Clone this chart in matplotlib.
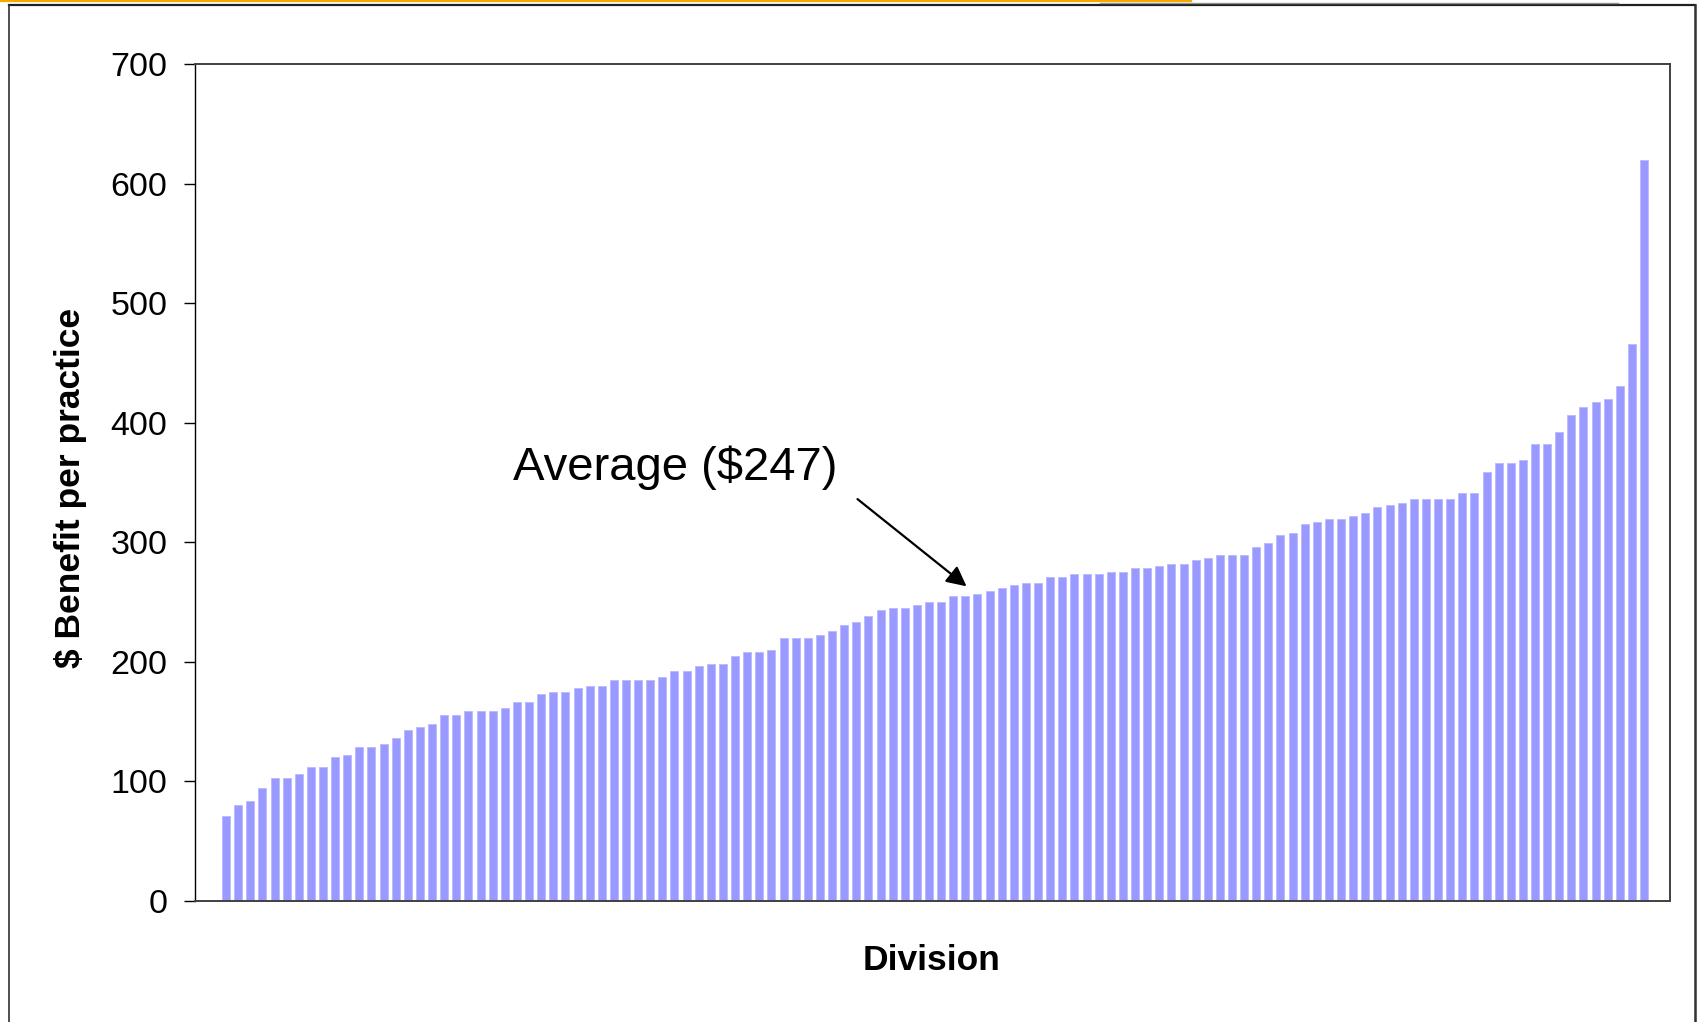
import matplotlib
matplotlib.use("Agg")
import matplotlib.pyplot as plt
from matplotlib.lines import Line2D

plt.rcParams['font.family'] = ['Liberation Sans', 'DejaVu Sans']

# ---- data ----
values = [71, 80, 83, 94, 103, 103, 106, 112, 112, 120,
          122, 129, 129, 131, 136, 143, 145, 148, 155, 155,
          159, 159, 159, 161, 166, 166, 173, 175, 175, 178,
          180, 180, 185, 185, 185, 185, 187, 192, 192, 196,
          198, 198, 205, 208, 208, 210, 220, 220, 220, 222,
          226, 231, 233, 238, 243, 245, 245, 247, 250, 250,
          255, 255, 257, 259, 262, 264, 266, 266, 271, 271,
          273, 273, 273, 275, 275, 278, 278, 280, 282, 282,
          285, 287, 289, 289, 289, 296, 299, 306, 308, 315,
          317, 319, 319, 322, 324, 329, 331, 333, 336, 336,
          336, 336, 341, 341, 359, 366, 366, 369, 382, 382,
          392, 406, 413, 417, 420, 431, 466, 620]
divisions = list(range(len(values)))
y_ticks = [0, 100, 200, 300, 400, 500, 600, 700]
annotation_text = "Average ($247)"
x_label = "Division"
y_label = "$ Benefit per practice"

W, H = 1700, 1022
fig = plt.figure(figsize=(W / 100, H / 100), dpi=100)
fig.patch.set_facecolor('white')

# axes placement (pixels -> fraction)
ax_l, ax_r, ax_t, ax_b = 195, 1670, 64, 900.7
ax = fig.add_axes([ax_l / W, 1 - ax_b / H, (ax_r - ax_l) / W, (ax_b - ax_t) / H])

ax.bar(divisions, values, width=0.66, color='#9999FF', edgecolor='#B8B8FF', linewidth=0.6)

ax.set_xlim(-2.56, 119.14)
ax.set_ylim(0, 700)
ax.set_yticks(y_ticks)
ax.set_yticklabels([str(t) for t in y_ticks], fontsize=24.5)
ax.set_xticks([])
ax.tick_params(axis='y', direction='out', length=8, width=1, pad=12, colors='black')

for side in ['top', 'right', 'bottom']:
    ax.spines[side].set_color('#404040')
    ax.spines[side].set_linewidth(1.4)
ax.spines['left'].set_color('black')
ax.spines['left'].set_linewidth(1.0)

# annotation with arrow
ax.annotate('', xy=(61.1, 263), xytext=(52.1, 336),
            arrowprops=dict(arrowstyle='-|>', mutation_scale=30, lw=1.6, color='black',
                            shrinkA=0, shrinkB=0))
ax.text(23.7, 352, annotation_text, fontsize=34, ha='left', va='baseline', color='black')

# axis labels
fig.text(932 / W, 1 - 960.5 / H, x_label, fontsize=25.5, fontweight='bold', ha='center', va='center')
fig.text(71 / W, 1 - 488 / H, y_label, fontsize=25.5, fontweight='bold', rotation=90,
         ha='center', va='center')

# outer frame and decorative lines
fig.add_artist(Line2D([0, 1191 / W], [1 - 0.8 / H, 1 - 0.8 / H], transform=fig.transFigure,
                      color='#F5A800', lw=1.6))
fig.add_artist(Line2D([9 / W, 1695 / W], [1 - 5 / H, 1 - 5 / H], transform=fig.transFigure,
                      color='#202020', lw=1.6))
fig.add_artist(Line2D([1100 / W, 1618 / W], [1 - 3.5 / H, 1 - 3.5 / H], transform=fig.transFigure,
                      color='#909090', lw=1.0))
fig.add_artist(Line2D([9 / W, 9 / W], [1 - 5 / H, 0], transform=fig.transFigure,
                      color='#303030', lw=1.2))
fig.add_artist(Line2D([1695 / W, 1695 / W], [1 - 5 / H, 0], transform=fig.transFigure,
                      color='#303030', lw=1.8))

fig.savefig('out.png', dpi=100)
